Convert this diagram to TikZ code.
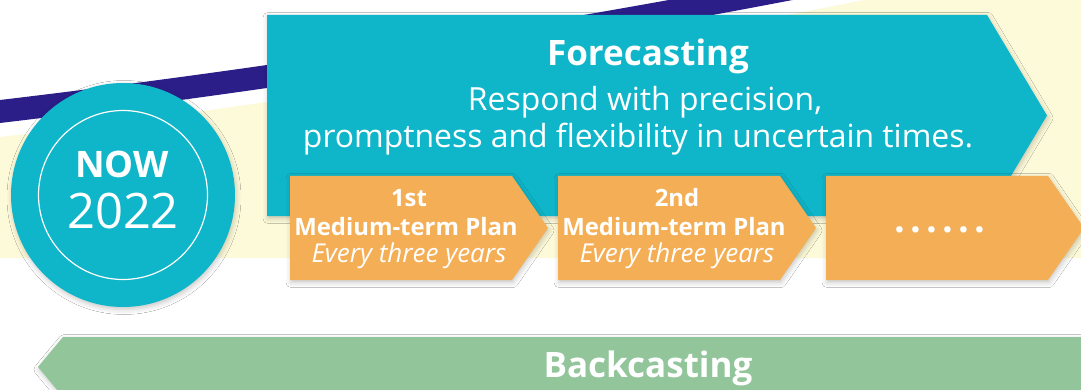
\documentclass[tikz,border=0pt]{standalone}
\usepackage{fontspec}
\setmainfont{Open Sans}[Ligatures=NoCommon]
\usetikzlibrary{shadows.blur}
\definecolor{cyanbox}{HTML}{0FB5C8}
\definecolor{navyband}{HTML}{2B1E88}
\definecolor{cream}{HTML}{FDFADA}
\definecolor{orangebox}{HTML}{F4AE55}
\definecolor{greenbox}{HTML}{92C59A}
\begin{document}
\begin{tikzpicture}[x=1pt,y=-1pt,
  softshadow/.style={blur shadow={shadow xshift=1pt, shadow yshift=-2.5pt, shadow blur radius=5pt, shadow opacity=22}},
  wtext/.style={text=white, inner sep=0pt, align=center},
  titlefont/.style={font=\bfseries\fontsize{35}{35}\selectfont},
  subfont/.style={font=\fontsize{31.9}{31.9}\selectfont},
  planbold/.style={font=\bfseries\fontsize{23.9}{23.9}\selectfont},
  planital/.style={font=\itshape\fontsize{26}{26}\selectfont}]
\useasboundingbox (0,0) rectangle (1081,390);
\begin{scope}
\clip (0,0) rectangle (1081,390);
\fill[white] (0,0) rectangle (1081,390);
% cream band
\fill[cream] plot[domain=0:900,samples=60] (\x,{137-0.1189*\x-0.458*(\x/100)^2}) -- (1081,-10) -- (1081,258) -- (0,258) -- cycle;
% navy swoosh
\fill[navyband] plot[domain=0:820,samples=60] (\x,{100-0.1189*\x-0.458*(\x/100)^2}) -- plot[domain=820:0,samples=60] (\x,{123-0.1189*\x-0.458*(\x/100)^2}) -- cycle;
% forecasting arrow
\path[fill=cyanbox, softshadow] (267,15) -- (987,15) -- (1047,115.5) -- (987,216) -- (267,216) -- cycle;
% NOW circle
\path[fill=cyanbox, softshadow] (123,195) circle[radius=112];
\draw[white, line width=1.2pt] (123,195) circle[radius=84.5];
% plan arrows
\foreach \L in {290,558,826} {
  \path[fill=orangebox, softshadow] (\L,176) -- ++(222,0) -- ++(36,52) -- ++(-36,52) -- ++(-222,0) -- cycle;
}
% backcasting arrow
\path[fill=greenbox, softshadow] (1100,337) -- (63,337) -- (38,367) -- (63,397) -- (1100,397) -- cycle;
% texts
\node[wtext, anchor=base, titlefont] (fore) at (648,66) {Forecasting};
\node[wtext, anchor=base, subfont] (resp1) at (645,111) {Respond with precision,};
\node[wtext, anchor=base, subfont] (resp2) at (638,148) {promptness and flexibility in uncertain times.};
\node[wtext, anchor=base, planbold] (p1a) at (409,207) {1st};
\node[wtext, anchor=base, planbold] (p1b) at (406,235) {Medium-term Plan};
\node[wtext, anchor=base, planital] (p1c) at (409,262) {Every three years};
\node[wtext, anchor=base, planbold] (p2a) at (677,207) {2nd};
\node[wtext, anchor=base, planbold] (p2b) at (674,235) {Medium-term Plan};
\node[wtext, anchor=base, planital] (p2c) at (677,262) {Every three years};
\node[wtext, anchor=base, font=\bfseries\fontsize{38}{38}\selectfont] (dots) at (940,233) {.\hspace{5.1pt}.\hspace{5.1pt}.\hspace{5.1pt}.\hspace{5.1pt}.\hspace{5.1pt}.};
\node[wtext, anchor=base, font=\bfseries\fontsize{36.5}{36.5}\selectfont] (now) at (122,178) {NOW};
\node[wtext, anchor=base, font=\fontsize{48.9}{48.9}\selectfont] (year) at (123,229) {2022};
\node[wtext, anchor=base, titlefont] (back) at (648,377) {Backcasting};
\end{scope}
\end{tikzpicture}
\end{document}
